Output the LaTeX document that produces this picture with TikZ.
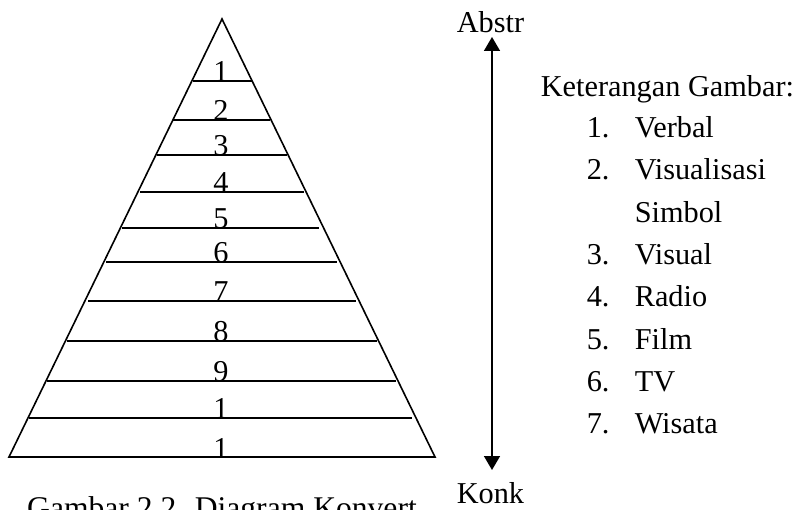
\documentclass[tikz,border=0pt]{standalone}
\usepackage{fontspec}
\setmainfont{Liberation Serif}
\usetikzlibrary{arrows.meta}
\begin{document}
\begin{tikzpicture}[x=1pt,y=-1pt,line width=1.6pt,
  txt/.style={font=\fontsize{30.3}{36}\selectfont,inner sep=0pt,anchor=base west},
  num/.style={font=\fontsize{30.3}{36}\selectfont,inner sep=0pt,anchor=base},
  tip/.style={{Triangle[width=16pt,length=14pt]}-{Triangle[width=16pt,length=14pt]}}]
\useasboundingbox (0,0) rectangle (806,510);
\clip (0,0) rectangle (806,510);
% pyramid
\coordinate (apex) at (222,19);
\coordinate (bl) at (9,457);
\coordinate (br) at (435,457);
\draw[line join=miter] (apex) -- (br) -- (bl) -- cycle;
\foreach \y/\a/\b in {81/193/252,120/173/270,155/157/287,192/140/304,228/122/319,262/106/337,301/88/356,341/67/377,381/47/396,418/29/412}
  \draw (\a,\y) -- (\b,\y);
\foreach \y/\t [count=\i] in {81/1,120/2,155/3,192/4,228/5,262/6,301/7,341/8,381/9,418/1,457/1}
  \node[num] (n\i) at (221,\y+1) {\t};
% arrow
\coordinate (atop) at (492,37);
\coordinate (abot) at (492,470);
\draw[tip] (atop) -- (abot);
\node[txt] (abstr) at (456,33) {Abstr};
\node[txt] (konk) at (456,503) {Konk};
% legend
\node[txt] (ket) at (540,97) {Keterangan Gambar:};
\foreach \y/\n/\t [count=\i] in {138/1./Verbal,180/2./Visualisasi,223//Simbol,265/3./Visual,307/4./Radio,350/5./Film,392/6./TV,434/7./Wisata}{
  \node[txt] (k\i) at (586,\y) {\n};
  \node[txt] (l\i) at (634,\y) {\t};
}
% caption
\node[num,font=\fontsize{31.6}{38}\selectfont] (cap) at (222,518) {Gambar 2.2. Diagram Konvert};
\end{tikzpicture}
\end{document}
